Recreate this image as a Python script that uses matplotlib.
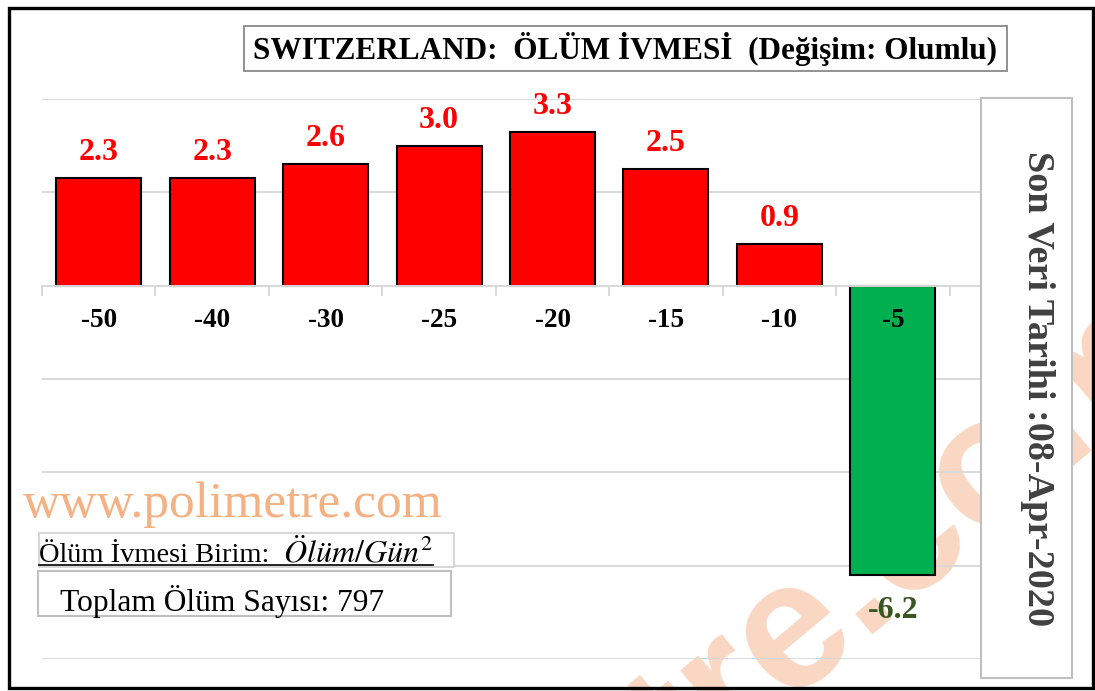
import numpy as np
import matplotlib
matplotlib.use('Agg')
import matplotlib.pyplot as plt
from matplotlib.patches import Rectangle
from matplotlib.lines import Line2D

# ----------------------------------------------------------------------------------------------------------------------
# Data
# ----------------------------------------------------------------------------------------------------------------------
days = ['-50', '-40', '-30', '-25', '-20', '-15', '-10', '-5', '']
values = [2.3, 2.3, 2.6, 3.0, 3.3, 2.5, 0.9, -6.2]
title = 'SWITZERLAND:  ÖLÜM İVMESİ  (Değişim: Olumlu)'
date_text = 'Son Veri Tarihi :08-Apr-2020'
unit_text = 'Ölüm İvmesi Birim: '
unit_math = '$Ölüm/Gün^2$'
total_text = 'Toplam Ölüm Sayısı: 797'
site = 'www.polimetre.com'

plt.rcParams['font.family'] = ['Liberation Serif', 'DejaVu Serif']
plt.rcParams['mathtext.fontset'] = 'stix'

W, H = 1095, 691
fig = plt.figure(figsize=(W / 100, H / 100), dpi=100)


def fx(px):
    return px / W


def fy(py):
    return 1 - py / H


def box(x0, y0, x1, y1, ec, lw=1.2, z=3):
    fig.add_artist(Rectangle((fx(x0), fy(y1)), fx(x1) - fx(x0), fy(y0) - fy(y1),
                             transform=fig.transFigure, facecolor='white',
                             edgecolor=ec, linewidth=lw, zorder=z))


# big faint watermark behind everything
fig.text(fx(1187), fy(371), site, rotation=40, rotation_mode='anchor', ha='right', va='baseline',
         fontsize=130, fontweight='bold', family='Liberation Sans', color='#F9D7C3', zorder=-1)

ax = fig.add_axes([fx(42), fy(659), fx(1063) - fx(42), fy(99) - fy(659)])
ax.patch.set_facecolor('none')

x = np.arange(len(values))
colors = ['#FF0000' if v > 0 else '#00B050' for v in values]
bars = ax.bar(x, values, width=0.75, color=colors, edgecolor='black', linewidth=1.5, zorder=2)

ax.set_xlim(-0.5, len(days) - 0.5)
ax.set_ylim(-8, 4)
ax.set_yticks(np.arange(-8, 5, 2))
ax.tick_params(axis='y', length=0, labelleft=False)
ax.set_axisbelow(True)
ax.grid(axis='y', color='#d9d9d9', linewidth=1.4)
for s in ['top', 'right', 'left']:
    ax.spines[s].set_visible(False)
ax.spines['bottom'].set_position(('data', 0))
ax.spines['bottom'].set_color('#d9d9d9')
ax.spines['bottom'].set_linewidth(1.4)
ax.set_xticks(x.tolist() + [len(values)])
ax.set_xticklabels([])
ax.tick_params(axis='x', which='major', length=0)
ax.set_xticks(np.arange(-0.5, len(days)), minor=True)
ax.tick_params(axis='x', which='minor', length=7, width=1.4, color='#d9d9d9', direction='out')

for i, d in enumerate(days):
    ax.text(i, -0.74, d, ha='center', va='center', fontsize=19.5, fontweight='bold',
            color='black', zorder=5)

for b, v in zip(bars, values):
    if v > 0:
        ax.annotate(f'{v:.1f}', (b.get_x() + b.get_width() / 2, v), xytext=(0, 8),
                    textcoords='offset points', ha='center', va='bottom',
                    fontsize=23, fontweight='bold', color='#FF0000', zorder=5)
    else:
        ax.annotate(f'{v:.1f}', (b.get_x() + b.get_width() / 2, v), xytext=(0, -15),
                    textcoords='offset points', ha='center', va='top',
                    fontsize=23, fontweight='bold', color='#375623', zorder=5)

# title box
box(244, 26, 1007, 71, '#7f7f7f')
fig.text(fx(625), fy(49), title, ha='center', va='center', fontsize=22.5,
         fontweight='bold', color='black', zorder=4)

# date box on the right
box(981, 98, 1072, 678, '#bfbfbf', lw=1.5)
fig.text(fx(1038), fy(389), date_text, rotation=270, ha='center', va='center',
         fontsize=27.5, fontweight='bold', color='#404040', zorder=4)

# site label
fig.text(fx(23), fy(517), site, ha='left', va='baseline', fontsize=37,
         color='#F4B183', zorder=4)

# unit box
box(39, 533, 454, 567, '#d0d0d0')
fig.text(fx(39), fy(562), unit_text, ha='left', va='baseline', fontsize=20.5,
         color='black', zorder=4)
fig.text(fx(283), fy(562), unit_math, ha='left', va='baseline', fontsize=23,
         color='black', zorder=4)
fig.add_artist(Line2D([fx(39), fx(433)], [fy(565), fy(565)], transform=fig.transFigure,
                      color='black', linewidth=1.2, zorder=4))

# total box
box(38, 571, 451, 616, '#c0c0c0', lw=1.5)
fig.text(fx(60), fy(611), total_text, ha='left', va='baseline', fontsize=22.7,
         color='black', zorder=4)

# outer border
fig.add_artist(Rectangle((fx(9), fy(688)), fx(1093) - fx(9), fy(8) - fy(688),
                         transform=fig.transFigure, facecolor='none',
                         edgecolor='black', linewidth=2.4, zorder=6))

plt.savefig('out.png', dpi=100)
